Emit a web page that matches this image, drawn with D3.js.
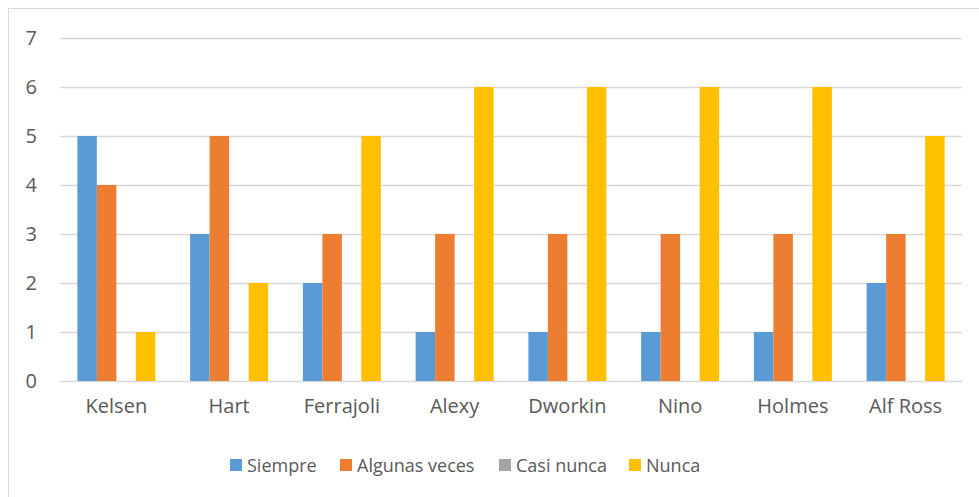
<!DOCTYPE html>
<html><head><meta charset="utf-8">
<script src="https://cdn.jsdelivr.net/npm/d3@7"></script>
<style>body{margin:0;background:#fff}svg{display:block}text{font-family:"Open Sans",sans-serif;fill:#595959}</style>
</head><body><svg id="c" width="979" height="497"></svg>
<script>
const categories = ["Kelsen","Hart","Ferrajoli","Alexy","Dworkin","Nino","Holmes","Alf Ross"];
const seriesNames = ["Siempre","Algunas veces","Casi nunca","Nunca"];
const siempre = [5,3,2,1,1,1,1,2];
const algunas = [4,5,3,3,3,3,3,3];
const casiNunca = [0,0,0,0,0,0,0,0];
const nunca = [1,2,5,6,6,6,6,5];
const yTicks = [0,1,2,3,4,5,6,7];
const colors = ["#5B9BD5","#ED7D31","#A5A5A5","#FFC000"];
const series = [siempre, algunas, casiNunca, nunca];

const svg = d3.select("#c");
svg.append("rect").attr("x",8.5).attr("y",8.5).attr("width",990).attr("height",510)
  .attr("fill","#fff").attr("stroke","#d9d9d9");

const m = {l:60, r:962, t:38, b:381};
const x = d3.scaleBand().domain(categories).range([m.l, m.r]).paddingInner(0).paddingOuter(0);
const y = d3.scaleLinear().domain([0,7]).range([m.b, m.t]);
const groupW = 78;
const xs = d3.scaleBand().domain(seriesNames).range([0, groupW]);

// gridlines
svg.append("g").selectAll("line").data(yTicks).join("line")
  .attr("x1",m.l).attr("x2",m.r).attr("y1",d=>Math.round(y(d))+0.5).attr("y2",d=>Math.round(y(d))+0.5)
  .attr("stroke","#d9d9d9").attr("stroke-width",1.3);

// y axis labels
const yAxis = d3.axisLeft(y).tickValues(yTicks).tickSize(0).tickPadding(0).tickFormat(d3.format("d"));
const ga = svg.append("g").attr("transform","translate(37,0)").call(yAxis);
ga.select(".domain").remove();
ga.selectAll("text").style("font-size","20px").attr("fill","#595959").style("font-family","'Open Sans', sans-serif");

// bars
const g = svg.append("g");
categories.forEach((c,i)=>{
  const x0 = x(c) + x.bandwidth()/2 - groupW/2;
  g.selectAll(null).data(series.map((s,j)=>({v:s[i], j}))).join("rect")
    .attr("x", d=>x0 + xs(seriesNames[d.j]))
    .attr("width", xs.bandwidth())
    .attr("y", d=>y(d.v))
    .attr("height", d=>y(0)-y(d.v))
    .attr("fill", d=>colors[d.j]);
});

// x axis labels
const xAxis = d3.axisBottom(x).tickSize(0).tickPadding(0);
const gx = svg.append("g").attr("transform",`translate(0,${m.b+18})`).call(xAxis);
gx.select(".domain").remove();
gx.selectAll("text").style("font-size","20px").attr("fill","#595959").style("font-family","'Open Sans', sans-serif");

// legend
const legX = [230, 340, 499, 629];
const lg = svg.append("g");
seriesNames.forEach((n,i)=>{
  lg.append("rect").attr("x",legX[i]).attr("y",459).attr("width",12).attr("height",12).attr("fill",colors[i]);
  lg.append("text").attr("x",legX[i]+17).attr("y",472).text(n).style("font-size","18px");
});
</script></body></html>
